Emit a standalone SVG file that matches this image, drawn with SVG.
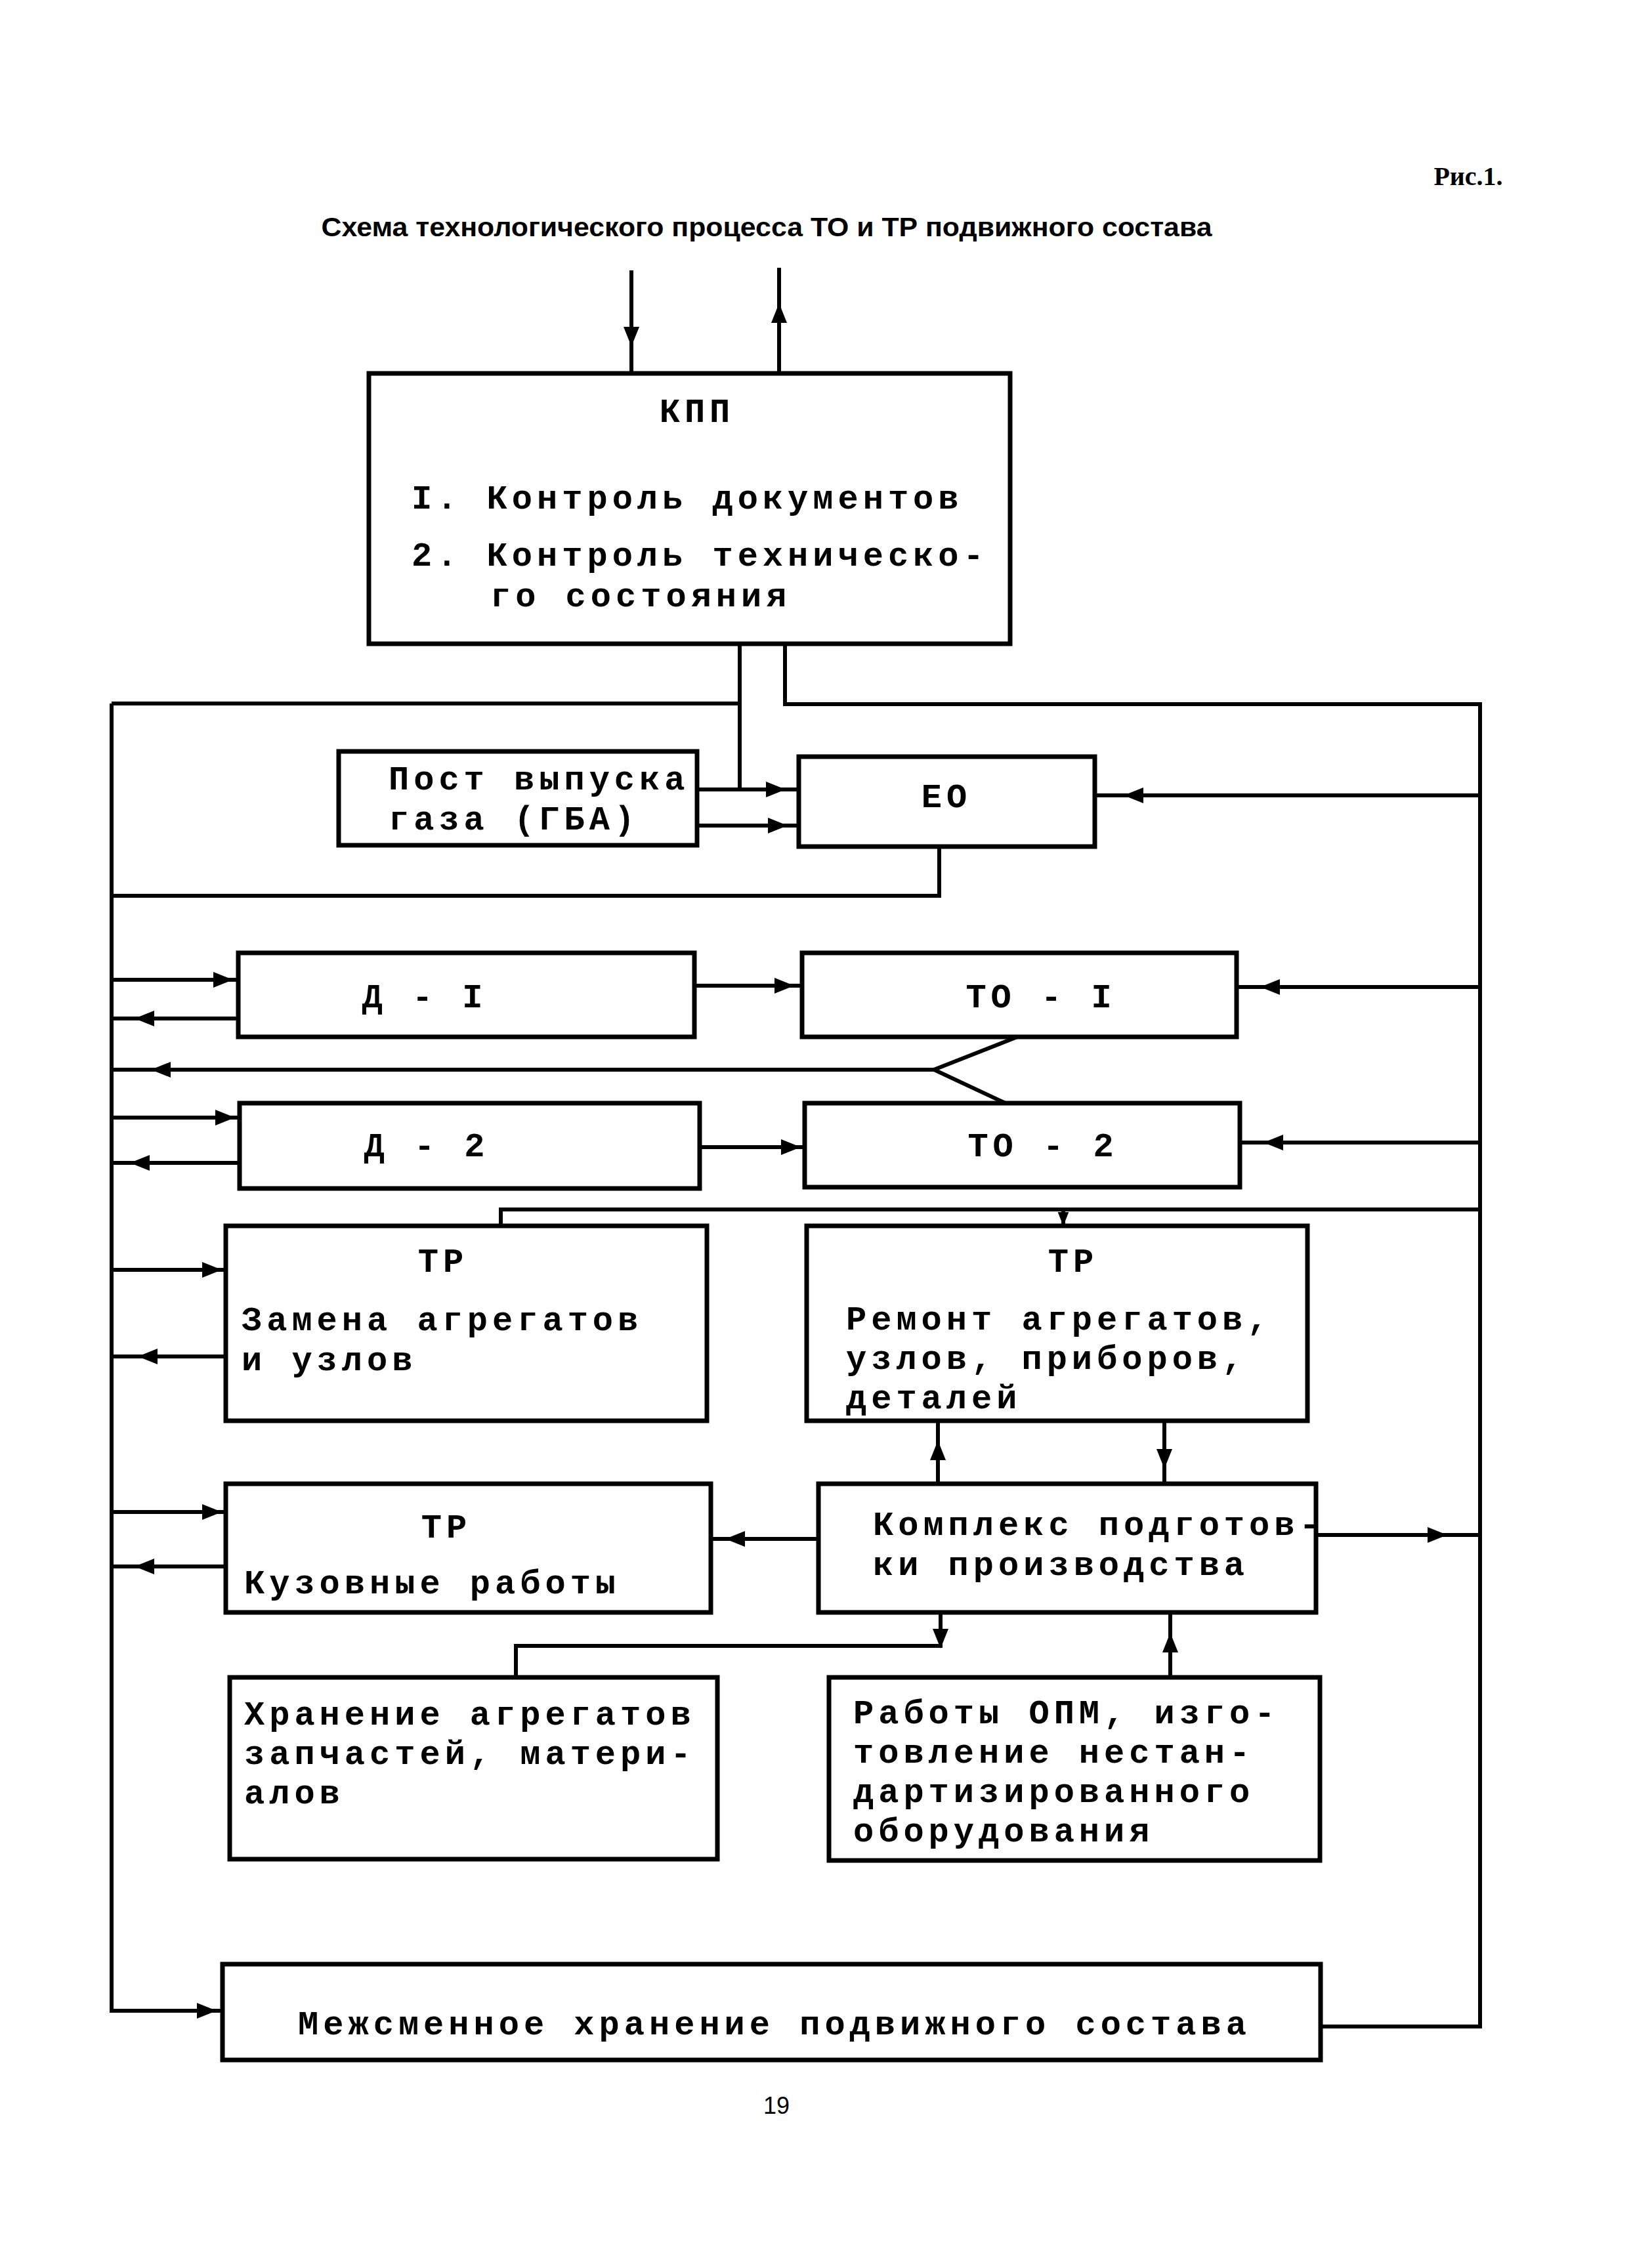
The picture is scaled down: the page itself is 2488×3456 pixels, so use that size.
<svg xmlns="http://www.w3.org/2000/svg" width="2488" height="3456" viewBox="0 0 2488 3456">
<style>
.box{fill:none;stroke:#000;stroke-width:7;stroke-linejoin:miter}
.con{fill:none;stroke:#000;stroke-width:6;stroke-linejoin:miter}
.t{font-family:"Liberation Mono","DejaVu Sans Mono",monospace;font-weight:bold;font-size:52px;letter-spacing:7px;fill:#000}
.m{text-anchor:middle}
.title{font-family:"Liberation Sans",Arial,sans-serif;font-weight:bold;font-size:40px;fill:#000;text-anchor:middle}
.fig{font-family:"Liberation Serif","Times New Roman",serif;font-weight:bold;font-size:40px;fill:#000;text-anchor:middle}
.pg{font-family:"Liberation Sans",Arial,sans-serif;font-size:36px;fill:#000;text-anchor:middle}
</style>
<defs>
<path id="ah" d="M0 0 L-30 -12 L-30 12 Z" fill="#000"/>
</defs>
<rect width="2488" height="3456" fill="#fff"/>

<text class="fig" x="2237" y="282">Рис.1.</text>
<text class="title" x="1168" y="360" textLength="1357" lengthAdjust="spacingAndGlyphs">Схема технологического процесса ТО и ТР подвижного состава</text>

<g id="connectors">
  <!-- top inputs -->
  <path class="con" d="M962 412 V569"/>
  <path class="con" d="M1187 408 V569"/>
  <!-- KPP bottom left to EO and left bus -->
  <path class="con" d="M1127 981 V1203 H1217"/>
  <path class="con" d="M170 1072 H1127"/>
  <!-- KPP bottom right to right bus -->
  <path class="con" d="M1196 981 V1073 H2255 V3088 H2012"/>
  <!-- left bus -->
  <path class="con" d="M170 1072 V3064 H339"/>
  <!-- Post to EO -->
  <path class="con" d="M1062 1203 H1127"/>
  <path class="con" d="M1062 1258 H1217"/>
  <!-- right bus to EO -->
  <path class="con" d="M2255 1212 H1668"/>
  <!-- EO bottom to left bus -->
  <path class="con" d="M1431 1290 V1365 H170"/>
  <!-- D-1 -->
  <path class="con" d="M170 1493 H363"/>
  <path class="con" d="M363 1552 H170"/>
  <path class="con" d="M1058 1502 H1222"/>
  <path class="con" d="M2255 1504 H1884"/>
  <!-- fork -->
  <path class="con" d="M1550 1580 L1423 1630 L1532 1681 M1423 1630 H170"/>
  <!-- D-2 -->
  <path class="con" d="M170 1703 H365"/>
  <path class="con" d="M365 1772 H170"/>
  <path class="con" d="M1066 1748 H1226"/>
  <path class="con" d="M2255 1741 H1889"/>
  <!-- line above TR boxes -->
  <path class="con" d="M2255 1843 H763 V1868"/>
  <path class="con" d="M1620 1843 V1868"/>
  <!-- TR left -->
  <path class="con" d="M170 1935 H344"/>
  <path class="con" d="M344 2067 H170"/>
  <!-- TR right to Kompleks -->
  <path class="con" d="M1429 2261 V2165"/>
  <path class="con" d="M1774 2165 V2261"/>
  <!-- Kuzovnye -->
  <path class="con" d="M170 2304 H344"/>
  <path class="con" d="M344 2387 H170"/>
  <!-- Kompleks left / right -->
  <path class="con" d="M1247 2345 H1083"/>
  <path class="con" d="M2005 2339 H2255"/>
  <!-- Kompleks bottom -->
  <path class="con" d="M1433 2457 V2508 H786 V2556"/>
  <path class="con" d="M1783 2556 V2457"/>

  <!-- arrowheads -->
  <use href="#ah" transform="translate(962,528) rotate(90)"/>
  <use href="#ah" transform="translate(1187,462) rotate(-90)"/>
  <use href="#ah" transform="translate(1197,1203)"/>
  <use href="#ah" transform="translate(1200,1258)"/>
  <use href="#ah" transform="translate(1712,1212) rotate(180)"/>
  <use href="#ah" transform="translate(355,1493)"/>
  <use href="#ah" transform="translate(205,1552) rotate(180)"/>
  <use href="#ah" transform="translate(230,1630) rotate(180)"/>
  <use href="#ah" transform="translate(358,1703)"/>
  <use href="#ah" transform="translate(198,1772) rotate(180)"/>
  <use href="#ah" transform="translate(1210,1502)"/>
  <use href="#ah" transform="translate(1220,1748)"/>
  <use href="#ah" transform="translate(1920,1504) rotate(180)"/>
  <use href="#ah" transform="translate(1925,1741) rotate(180)"/>
  <use href="#ah" transform="translate(1620,1868) rotate(90) scale(0.7)"/>
  <use href="#ah" transform="translate(338,1935)"/>
  <use href="#ah" transform="translate(210,2067) rotate(180)"/>
  <use href="#ah" transform="translate(338,2304)"/>
  <use href="#ah" transform="translate(205,2387) rotate(180)"/>
  <use href="#ah" transform="translate(1429,2195) rotate(-90)"/>
  <use href="#ah" transform="translate(1774,2238) rotate(90)"/>
  <use href="#ah" transform="translate(1105,2345) rotate(180)"/>
  <use href="#ah" transform="translate(2205,2339)"/>
  <use href="#ah" transform="translate(1433,2512) rotate(90)"/>
  <use href="#ah" transform="translate(1783,2488) rotate(-90)"/>
  <use href="#ah" transform="translate(330,3064)"/>
</g>

<g id="kpp">
  <rect class="box" x="562" y="569" width="977" height="412"/>
  <text class="t m" x="1062" y="643">КПП</text>
  <text class="t" x="627" y="775">I. Контроль документов</text>
  <text class="t" x="627" y="862">2. Контроль техническо-</text>
  <text class="t" x="747" y="924">го состояния</text>
</g>

<g id="post">
  <rect class="box" x="516" y="1145" width="546" height="143"/>
  <text class="t" x="592" y="1203">Пост выпуска</text>
  <text class="t" x="592" y="1264">газа (ГБА)</text>
</g>

<g id="eo">
  <rect class="box" x="1217" y="1153" width="451" height="137"/>
  <text class="t m" x="1442" y="1230">ЕО</text>
</g>

<g id="d1">
  <rect class="box" x="363" y="1452" width="695" height="128"/>
  <text class="t m" x="647" y="1535">Д - I</text>
</g>

<g id="to1">
  <rect class="box" x="1222" y="1452" width="662" height="128"/>
  <text class="t m" x="1586" y="1535">ТО - I</text>
</g>

<g id="d2">
  <rect class="box" x="365" y="1681" width="701" height="130"/>
  <text class="t m" x="650" y="1762">Д - 2</text>
</g>

<g id="to2">
  <rect class="box" x="1226" y="1681" width="663" height="128"/>
  <text class="t m" x="1589" y="1762">ТО - 2</text>
</g>

<g id="tr-zamena">
  <rect class="box" x="344" y="1868" width="733" height="297"/>
  <text class="t m" x="675" y="1938">ТР</text>
  <text class="t" x="368" y="2027">Замена агрегатов</text>
  <text class="t" x="368" y="2088">и узлов</text>
</g>

<g id="tr-remont">
  <rect class="box" x="1229" y="1868" width="763" height="297"/>
  <text class="t m" x="1635" y="1938">ТР</text>
  <text class="t" x="1289" y="2026">Ремонт агрегатов,</text>
  <text class="t" x="1289" y="2086">узлов, приборов,</text>
  <text class="t" x="1289" y="2146">деталей</text>
</g>

<g id="tr-kuzov">
  <rect class="box" x="344" y="2261" width="739" height="196"/>
  <text class="t m" x="680" y="2343">ТР</text>
  <text class="t" x="372" y="2428">Кузовные работы</text>
</g>

<g id="kompleks">
  <rect class="box" x="1247" y="2261" width="758" height="196"/>
  <text class="t" x="1330" y="2339">Комплекс подготов-</text>
  <text class="t" x="1330" y="2400">ки производства</text>
</g>

<g id="hranenie">
  <rect class="box" x="350" y="2556" width="743" height="277"/>
  <text class="t" x="372" y="2628">Хранение агрегатов</text>
  <text class="t" x="372" y="2688">запчастей, матери-</text>
  <text class="t" x="372" y="2748">алов</text>
</g>

<g id="opm">
  <rect class="box" x="1263" y="2556" width="748" height="279"/>
  <text class="t" x="1300" y="2626">Работы ОПМ, изго-</text>
  <text class="t" x="1300" y="2686">товление нестан-</text>
  <text class="t" x="1300" y="2746">дартизированного</text>
  <text class="t" x="1300" y="2806">оборудования</text>
</g>

<g id="mezhsmen">
  <rect class="box" x="339" y="2993" width="1673" height="146"/>
  <text class="t m" x="1180" y="3100">Межсменное хранение подвижного состава</text>
</g>

<text class="pg" x="1183" y="3221">19</text>
</svg>
